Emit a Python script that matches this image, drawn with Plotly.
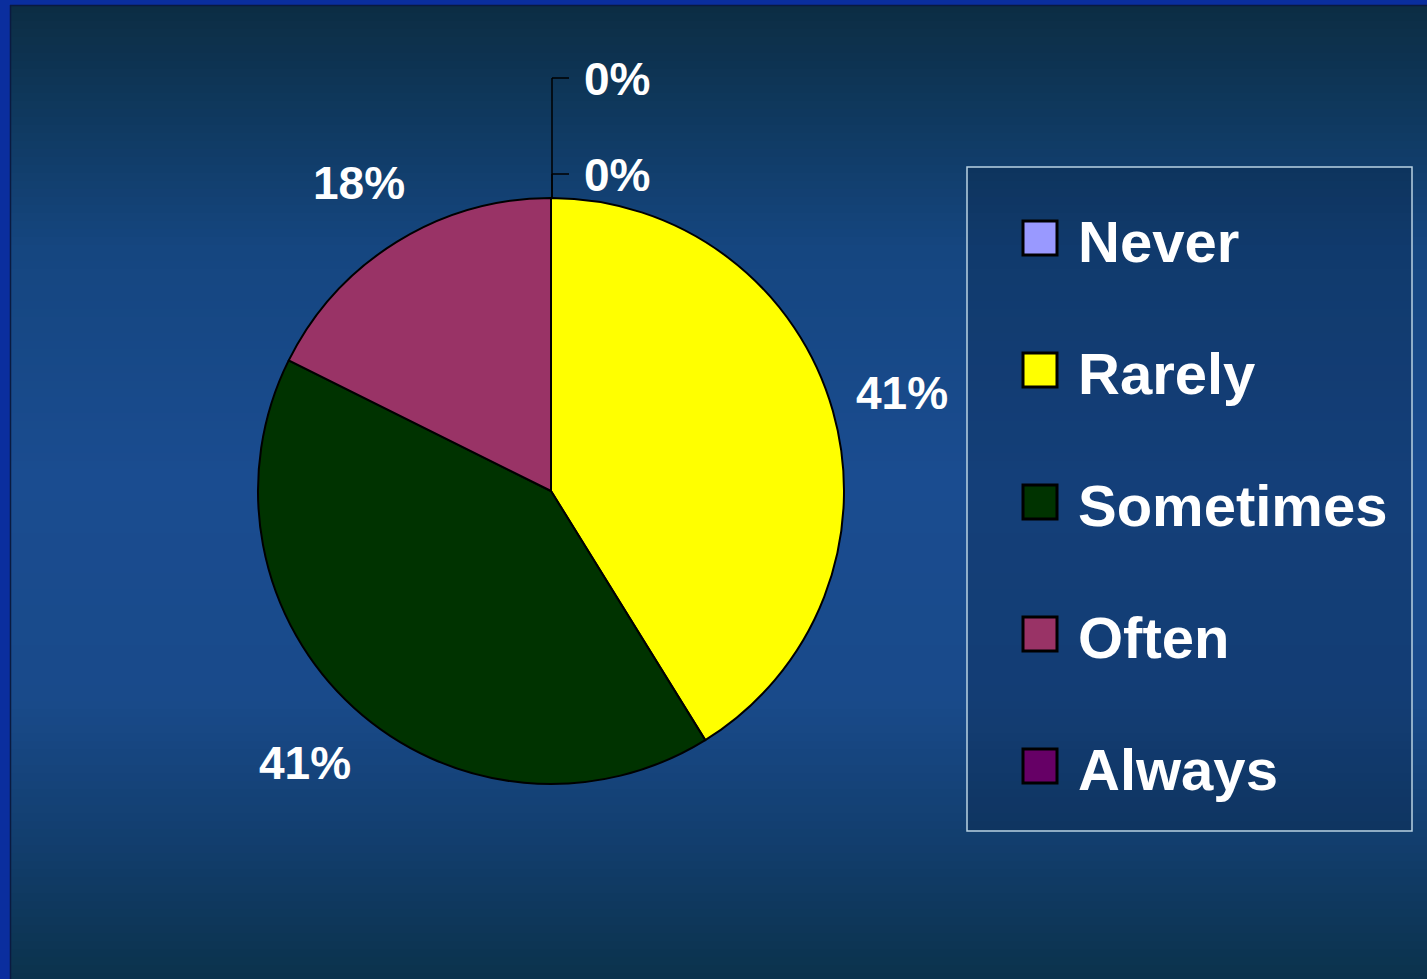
import math
import plotly.graph_objects as go

# ---- data ----
categories = ["Never", "Rarely", "Sometimes", "Often", "Always"]
counts = [0, 7, 7, 3, 0]
colors = ["#9999ff", "#ffff00", "#003300", "#993366", "#660066"]

W, H = 1427, 979

def px(x):
    return x / W

def py(y):
    return 1 - y / H

# pie geometry (pixels)
cx, cy, R = 551, 491, 293

fig = go.Figure()
fig.add_trace(go.Pie(
    labels=categories,
    values=counts,
    sort=False,
    direction="clockwise",
    rotation=0,
    marker=dict(colors=colors, line=dict(color="#000000", width=2)),
    textinfo="none",
    hoverinfo="label+percent",
    showlegend=False,
    domain=dict(x=[px(cx - R), px(cx + R)], y=[py(cy + R), py(cy - R)]),
))

shapes = []
# outer blue frame
shapes.append(dict(type="rect", xref="paper", yref="paper", x0=0, x1=1, y0=0, y1=1,
                   fillcolor="#0a2e9e", line=dict(width=0), layer="below"))
# gradient background bands
stops = [(0, (12, 44, 66)), (90, (14, 54, 88)), (250, (21, 70, 128)), (480, (26, 76, 144)),
         (700, (25, 74, 138)), (840, (18, 62, 110)), (979, (11, 50, 76))]

def col_at(y):
    for (y0, c0), (y1, c1) in zip(stops[:-1], stops[1:]):
        if y0 <= y <= y1:
            t = (y - y0) / (y1 - y0)
            return "rgb(%d,%d,%d)" % tuple(round(a + (b - a) * t) for a, b in zip(c0, c1))
    return "rgb(%d,%d,%d)" % stops[-1][1]

band = 8
y = 5
while y < H:
    y2 = min(y + band, H)
    shapes.append(dict(type="rect", xref="paper", yref="paper", x0=px(10), x1=1,
                       y0=py(y2), y1=py(y), fillcolor=col_at((y + y2) / 2),
                       line=dict(width=0), layer="below"))
    y = y2
# thin dark inner edge
shapes.append(dict(type="line", xref="paper", yref="paper", x0=px(10.5), x1=px(10.5), y0=0, y1=py(5),
                   line=dict(color="#0a1a40", width=1.5), layer="below"))
shapes.append(dict(type="line", xref="paper", yref="paper", x0=px(10), x1=1, y0=py(5.5), y1=py(5.5),
                   line=dict(color="#0a1a40", width=1.5), layer="below"))

annotations = []
total = sum(counts)
label_font = dict(family="Liberation Sans, Arial, sans-serif", size=46, color="white")

cum = 0
zero_k = 0
zero_ys = [174, 78]
for name, v in zip(categories, counts):
    pct = "%d%%" % round(100 * v / total)
    if v == 0:
        ang = math.radians(360 * cum / total)
        ex = cx + R * math.sin(ang)
        ey = cy - R * math.cos(ang)
        ly = zero_ys[zero_k]
        zero_k += 1
        shapes.append(dict(type="line", xref="paper", yref="paper", x0=px(ex + 1), x1=px(ex + 1),
                           y0=py(ey), y1=py(ly), line=dict(color="black", width=1.5)))
        shapes.append(dict(type="line", xref="paper", yref="paper", x0=px(ex + 1), x1=px(ex + 18),
                           y0=py(ly), y1=py(ly), line=dict(color="black", width=1.5)))
        annotations.append(dict(x=px(617), y=py(ly + 1), xref="paper", yref="paper", text="<b>%s</b>" % pct,
                                showarrow=False, xanchor="center", yanchor="middle", font=label_font))
    else:
        mid = math.radians(360 * (cum + v / 2) / total)
        d = 365
        lx = cx + d * math.sin(mid)
        ly = cy - d * math.cos(mid)
        annotations.append(dict(x=px(lx), y=py(ly + 2), xref="paper", yref="paper", text="<b>%s</b>" % pct,
                                showarrow=False, xanchor="center", yanchor="middle", font=label_font))
    cum += v

# manual legend box
shapes.append(dict(type="rect", xref="paper", yref="paper", x0=px(967), x1=px(1412), y0=py(831), y1=py(167),
                   fillcolor="rgba(5,25,50,0.25)", line=dict(color="#b9d2e2", width=1.5)))
leg_font = dict(family="Liberation Sans, Arial, sans-serif", size=58, color="white")
for i, (name, c) in enumerate(zip(categories, colors)):
    yc = 238 + i * 132
    shapes.append(dict(type="rect", xref="paper", yref="paper", x0=px(1023), x1=px(1057),
                       y0=py(yc + 17), y1=py(yc - 17), fillcolor=c, line=dict(color="black", width=3)))
    annotations.append(dict(x=px(1076), y=py(yc + 3), xref="paper", yref="paper", text="<b>%s</b>" % name,
                            showarrow=False, xanchor="left", yanchor="middle", font=leg_font))

fig.update_layout(
    width=W, height=H,
    margin=dict(l=0, r=0, t=0, b=0),
    paper_bgcolor="#0a2e9e",
    plot_bgcolor="rgba(0,0,0,0)",
    shapes=shapes,
    annotations=annotations,
    showlegend=False,
)

fig.write_html(
    "out.html",
    config={"displayModeBar": False},
    post_script="document.body.style.margin='0';document.body.style.padding='0';"
                "document.body.style.overflow='hidden';document.body.style.background='#0a2e9e';",
)
